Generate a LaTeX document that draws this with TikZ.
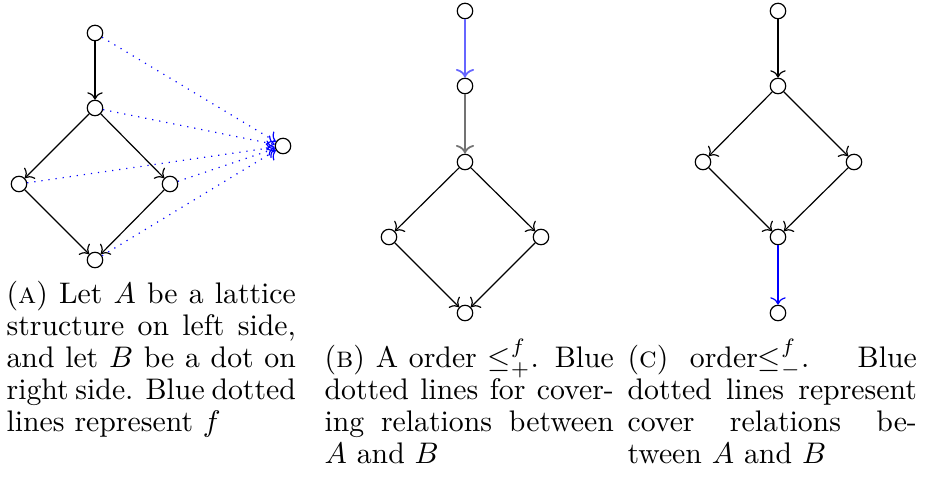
\documentclass[tikz,border=0pt]{standalone}
\usepackage{amsmath,amssymb}
\usepackage{tikz}
\usetikzlibrary{arrows.meta}

\begin{document}
\begin{tikzpicture}[
    x=0.336pt,
    y=-0.336pt,
    vtx/.style={draw, circle, minimum size=5.2pt, inner sep=0pt},
    rel/.style={->, draw=black},
    fmap/.style={->, draw=blue, dotted},
    plus/.style={->, draw=blue!60, semithick},
    plusrel/.style={->, draw=black!55, semithick},
    minus/.style={->, draw=blue},
    subcap/.style={anchor=base west, inner sep=0pt, text width=97.2pt,
        align=justify, font=\fontsize{10pt}{10.7pt}\selectfont}
]
    \useasboundingbox (0,0) rectangle (927,479);

    % (a) lattice A and dot B
    \node[vtx] (a1) at (95,33) {};
    \node[vtx] (a2) at (95,108) {};
    \node[vtx] (a3) at (19,184) {};
    \node[vtx] (a4) at (170,184) {};
    \node[vtx] (a5) at (95,260) {};
    \node[vtx] (b) at (283,146) {};

    \draw[rel] (a1) -- (a2);
    \draw[rel] (a2) -- (a3);
    \draw[rel] (a2) -- (a4);
    \draw[rel] (a3) -- (a5);
    \draw[rel] (a4) -- (a5);
    \foreach \v in {a1,a2,a3,a4,a5}
        \draw[fmap] (\v) -- (b);

    % (b) order with B on top
    \node[vtx] (p1) at (465,11) {};
    \node[vtx] (p2) at (465,86) {};
    \node[vtx] (p3) at (465,162) {};
    \node[vtx] (p4) at (389,237) {};
    \node[vtx] (p5) at (541,237) {};
    \node[vtx] (p6) at (465,313) {};

    \draw[plus] (p1) -- (p2);
    \draw[plusrel] (p2) -- (p3);
    \draw[rel] (p3) -- (p4);
    \draw[rel] (p3) -- (p5);
    \draw[rel] (p4) -- (p6);
    \draw[rel] (p5) -- (p6);

    % (c) order with B at the bottom
    \node[vtx] (q1) at (778,11) {};
    \node[vtx] (q2) at (778,86) {};
    \node[vtx] (q3) at (703,162) {};
    \node[vtx] (q4) at (854,162) {};
    \node[vtx] (q5) at (778,237) {};
    \node[vtx] (q6) at (778,313) {};

    \draw[rel] (q1) -- (q2);
    \draw[rel] (q2) -- (q3);
    \draw[rel] (q2) -- (q4);
    \draw[rel] (q3) -- (q5);
    \draw[rel] (q4) -- (q5);
    \draw[minus] (q5) -- (q6);

    % captions
    \node[subcap] (capa) at (6,304)
        {(\textsc{a}) Let $A$ be a lattice\linebreak
        structure on left side,\linebreak
        and let $B$ be a dot on\linebreak
        right side. Blue dotted\linebreak
        lines represent $f$};
    \node[subcap] (capb) at (324,368)
        {(\textsc{b}) A order $\leq^f_+$. Blue\linebreak
        dotted lines for cover-\linebreak
        ing relations between\linebreak
        $A$ and $B$};
    \node[subcap] (capc) at (627,368)
        {(\textsc{c}) order$\leq^f_-$. Blue\linebreak
        dotted lines represent\linebreak
        cover relations be-\linebreak
        tween $A$ and $B$};
\end{tikzpicture}
\end{document}
